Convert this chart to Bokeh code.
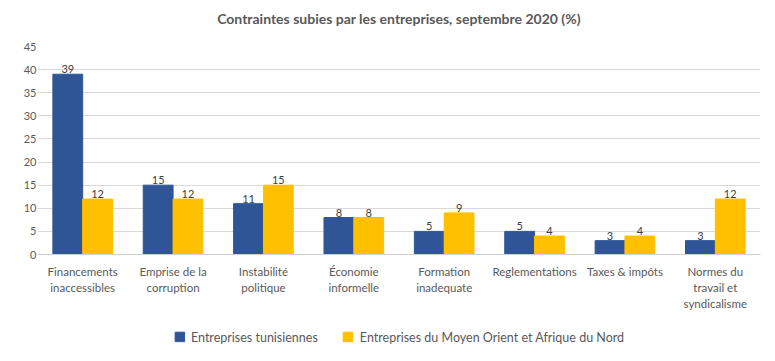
from bokeh.plotting import figure
from bokeh.models import ColumnDataSource, FactorRange, Legend, LegendItem, FixedTicker, Range1d
from bokeh.layouts import column
from bokeh.transform import dodge
from bokeh.core.properties import value
from bokeh.embed import file_html
from bokeh.resources import INLINE

title_text = ["Contraintes subies par les entreprises, septembre 2020 (%)"]
categories = ["Financements\ninaccessibles", "Emprise de la\ncorruption", "Instabilité\npolitique",
              "Économie\ninformelle", "Formation\ninadequate", "Reglementations", "Taxes & impôts",
              "Normes du\ntravail et\nsyndicalisme"]
tunisie = [39, 15, 11, 8, 5, 5, 3, 3]
mena = [12, 12, 15, 8, 9, 4, 4, 12]
series_names = ["Entreprises tunisiennes", "Entreprises du Moyen Orient et Afrique du Nord"]
y_ticks = list(range(0, 50, 5))

FONT = "Lato"
GREY = "#595959"
BLUE = "#2F5597"
YELLOW = "#FFC000"

src = ColumnDataSource(dict(cat=categories, t=tunisie, m=mena,
                            tl=[str(v) for v in tunisie], ml=[str(v) for v in mena]))

# title strip
hd = figure(x_range=Range1d(0, 1), y_range=Range1d(0, 1), width=767, height=36,
            output_backend="svg", toolbar_location=None, min_border=0,
            x_axis_location=None, y_axis_location=None)
hd.grid.visible = False
hd.outline_line_color = None
hd.text(x=[0.5], y=[0.5], text=title_text, text_align="center", text_baseline="middle",
        text_font=value(FONT), text_font_size="14px", text_font_style="bold", text_color=GREY)

p = figure(x_range=FactorRange(*categories, range_padding=0), y_range=(0, 45),
           width=767, height=284, output_backend="svg", toolbar_location=None,
           min_border_left=37, min_border_right=7, min_border_top=10, min_border_bottom=66)

r1 = p.vbar(x=dodge("cat", -0.165, range=p.x_range), top="t", width=0.33, source=src,
            fill_color=BLUE, line_color=BLUE)
r2 = p.vbar(x=dodge("cat", 0.165, range=p.x_range), top="m", width=0.33, source=src,
            fill_color=YELLOW, line_color=YELLOW)

p.text(x=dodge("cat", -0.165, range=p.x_range), y="t", text="tl", source=src,
       text_align="center", text_baseline="bottom", y_offset=-1,
       text_font=value(FONT), text_font_size="11px", text_color="#404040")
p.text(x=dodge("cat", 0.165, range=p.x_range), y="m", text="ml", source=src,
       text_align="center", text_baseline="bottom", y_offset=-1,
       text_font=value(FONT), text_font_size="11px", text_color="#404040")

p.yaxis.ticker = FixedTicker(ticks=y_ticks)
p.yaxis.axis_line_color = None
p.yaxis.major_tick_line_color = None
p.yaxis.minor_tick_line_color = None
p.yaxis.major_tick_out = 0
p.yaxis.major_tick_in = 0
p.yaxis.major_label_text_font = FONT
p.yaxis.major_label_text_font_size = "11px"
p.yaxis.major_label_text_color = GREY
p.yaxis.major_label_standoff = 1

p.xaxis.axis_line_color = "#D0D0D0"
p.xaxis.major_tick_line_color = None
p.xaxis.minor_tick_line_color = None
p.xaxis.major_label_text_font = FONT
p.xaxis.major_label_text_font_size = "11.5px"
p.xaxis.major_label_text_color = GREY
p.xaxis.major_label_standoff = 4
p.xaxis.major_label_text_line_height = 1.25

p.xgrid.grid_line_color = None
p.ygrid.grid_line_color = "#D9D9D9"
p.ygrid.ticker = FixedTicker(ticks=y_ticks)
p.outline_line_color = None

# legend strip: same series drawn out of view, only the legend is visible
lg = figure(x_range=FactorRange(*categories, range_padding=0), y_range=Range1d(1000, 1001),
            width=767, height=33, output_backend="svg", toolbar_location=None,
            min_border=0, x_axis_location=None, y_axis_location=None)
lg.grid.visible = False
lg.outline_line_color = None
l1 = lg.vbar(x="cat", top="t", width=0.33, source=src, fill_color=BLUE, line_color=BLUE)
l2 = lg.vbar(x="cat", top="m", width=0.33, source=src, fill_color=YELLOW, line_color=YELLOW)

legend = Legend(items=[LegendItem(label=series_names[0], renderers=[l1]),
                       LegendItem(label=series_names[1], renderers=[l2])],
                orientation="horizontal", location="center",
                label_text_font=FONT, label_text_font_size="12.5px", label_text_color=GREY,
                glyph_width=12, glyph_height=12, spacing=24, label_standoff=6,
                border_line_alpha=0, background_fill_alpha=0, margin=0, padding=2)
lg.add_layout(legend, "center")

layout = column(hd, p, lg, spacing=0)
open("out.html", "w").write(file_html(layout, INLINE))
